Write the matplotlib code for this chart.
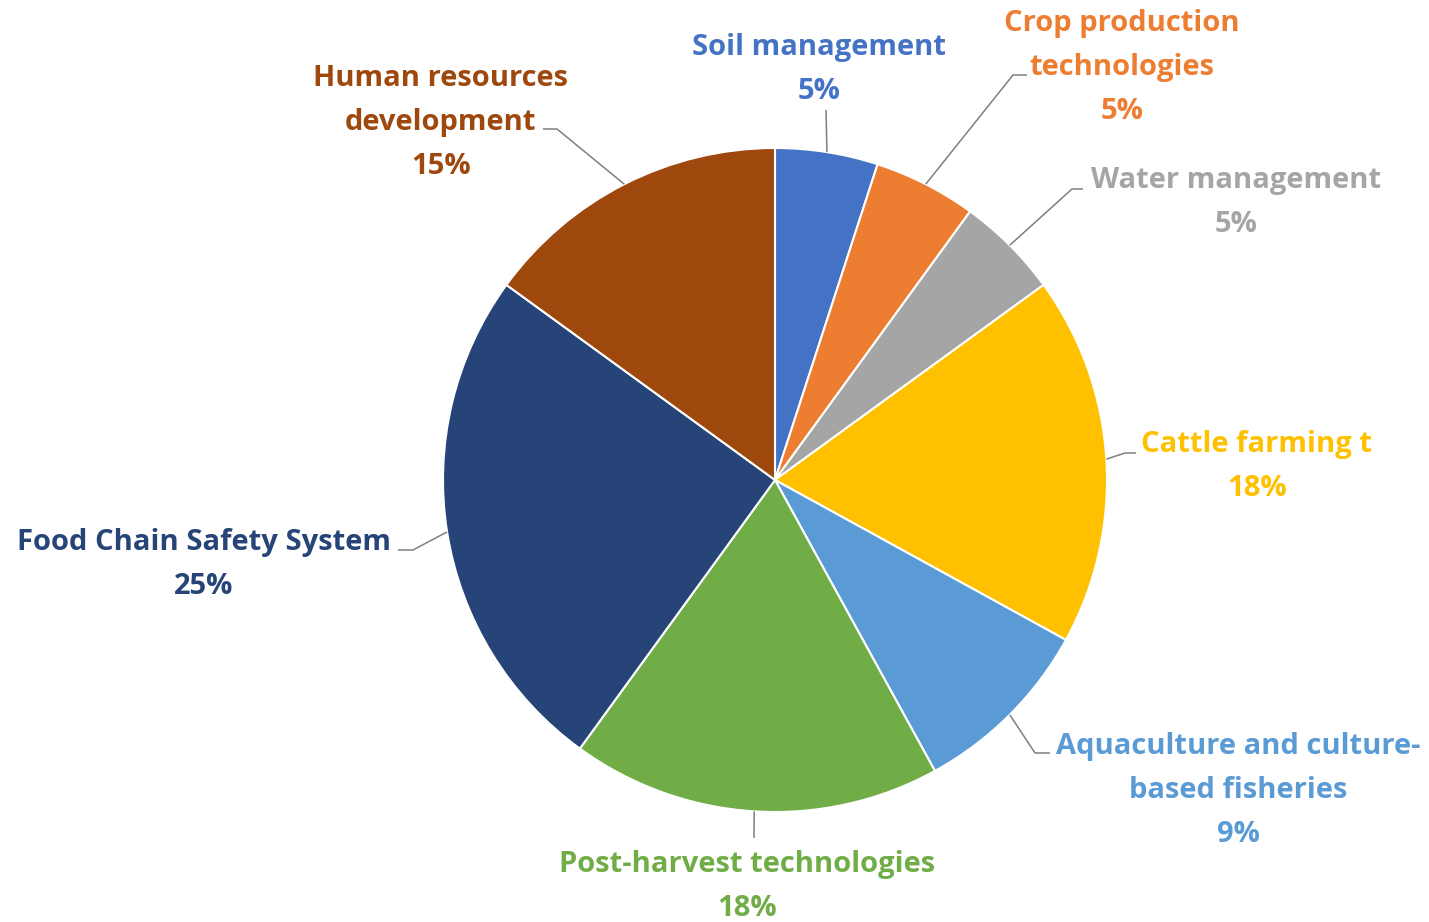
import numpy as np
import matplotlib
matplotlib.use("Agg")
import matplotlib.pyplot as plt

# data
categories = ["Soil management", "Crop production technologies", "Water management",
              "Cattle farming t", "Aquaculture and culture-based fisheries",
              "Post-harvest technologies", "Food Chain Safety System",
              "Human resources development"]
shares = [5, 5, 5, 18, 9, 18, 25, 15]
label_lines = [["Soil management"],
               ["Crop production", "technologies"],
               ["Water management"],
               ["Cattle farming t"],
               ["Aquaculture and culture-", "based fisheries"],
               ["Post-harvest technologies"],
               ["Food Chain Safety System"],
               ["Human resources", "development"]]
colors = ["#4472C4", "#ED7D31", "#A5A5A5", "#FFC000",
          "#5B9BD5", "#70AD47", "#264478", "#9E480E"]

W, H = 1429, 922
CX, CY, R = 775, 480, 332

# label layout in pixel coords: (x centre, first line centre y)
label_pos = [(819, 45), (1122, 21), (1236, 178), (1257, 442),
             (1238, 744), (747, 862), (204, 540), (441, 76)]
# leader elbow and end points in pixel coords
leader_pts = [((826, 110), (826, 110)), ((1013, 75), (1027, 75)),
              ((1072, 189), (1083, 189)), ((1125, 453), (1136, 453)),
              ((1035, 753), (1050, 753)), ((754, 838), (754, 838)),
              ((413, 550), (398, 550)), ((557, 129), (543, 129))]
LINE_H = 44


def fy(y):
    return H - y


plt.rcParams['font.family'] = ['Open Sans', 'DejaVu Sans']
fig = plt.figure(figsize=(W / 100, H / 100), dpi=100)
ax = fig.add_axes([0, 0, 1, 1])

wedges, _ = ax.pie(shares, colors=colors, startangle=90, counterclock=False,
                   center=(CX, fy(CY)), radius=R,
                   wedgeprops=dict(edgecolor="white", linewidth=1.5))
ax.set_xlim(0, W)
ax.set_ylim(0, H)
ax.set_aspect("equal")
ax.axis("off")

for i, w in enumerate(wedges):
    mid = np.deg2rad((w.theta1 + w.theta2) / 2)
    sx = CX + R * np.cos(mid)
    sy = fy(CY) + R * np.sin(mid)
    (ex, ey), (tx, ty) = leader_pts[i]
    ax.plot([sx, ex, tx], [sy, fy(ey), fy(ty)], color="#7f7f7f", lw=1.1,
            solid_capstyle="butt")
    x0, y0 = label_pos[i]
    lines = label_lines[i] + [f"{shares[i]}%"]
    for k, line in enumerate(lines):
        ax.text(x0, fy(y0 + k * LINE_H + 10), line, ha="center", va="baseline",
                fontsize=21, fontweight="bold", color=colors[i])

fig.savefig("out.png", dpi=100, facecolor="white")
